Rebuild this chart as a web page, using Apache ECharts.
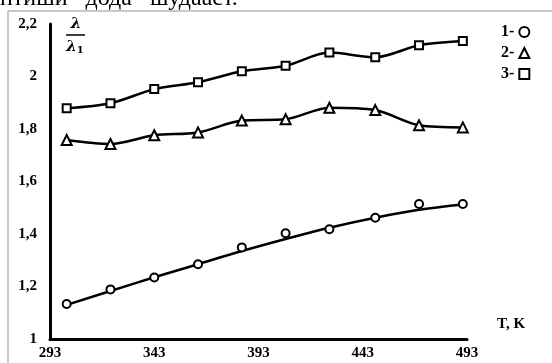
<!DOCTYPE html>
<html>
<head>
<meta charset="utf-8">
<script src="https://cdn.jsdelivr.net/npm/echarts@6/dist/echarts.min.js"></script>
<style>
  html, body { margin: 0; padding: 0; background: #fff; }
  #chart { width: 552px; height: 363px; }
</style>
</head>
<body>
<div id="chart"></div>
<script>
// temperatures, K
var temps = [301, 322, 343, 364, 385, 406, 427, 449, 470, 491];
// measured points
var curve1 = [1.133, 1.189, 1.234, 1.285, 1.349, 1.403, 1.418, 1.462, 1.514, 1.514];
var curve2 = [1.758, 1.743, 1.776, 1.787, 1.832, 1.837, 1.881, 1.872, 1.814, 1.806];
var curve3 = [1.879, 1.898, 1.952, 1.978, 2.020, 2.041, 2.091, 2.073, 2.119, 2.135];
// trend line drawn through curve 1
var trend1 = [1.130, 1.183, 1.235, 1.285, 1.335, 1.381, 1.424, 1.462, 1.492, 1.512];
var xTicks = [293, 343, 393, 443, 493];
var yTicks = [1, 1.2, 1.4, 1.6, 1.8, 2, 2.2];

var T0 = xTicks[0];
function pairs(vals) {
    return temps.map(function (t, i) { return [t - T0, vals[i]]; });
}

var labelFont = {
    color: '#000',
    fontFamily: 'Liberation Serif',
    fontWeight: 'bold',
    fontSize: 15
};

var option = {
    backgroundColor: '#fff',
    animation: false,
    grid: { left: 50, right: 85, top: 24, bottom: 24 },
    xAxis: {
        type: 'value',
        min: 0,
        max: xTicks[xTicks.length - 1] - T0,
        interval: 50,
        axisLine: { lineStyle: { color: '#000', width: 3 } },
        axisTick: { show: false },
        splitLine: { show: false },
        axisLabel: Object.assign({
            margin: 7,
            formatter: function (v) { return String(v + T0); }
        }, labelFont)
    },
    yAxis: {
        type: 'value',
        min: yTicks[0],
        max: yTicks[yTicks.length - 1],
        interval: 0.2,
        axisLine: { show: true, lineStyle: { color: '#000', width: 3 } },
        axisTick: { show: false },
        splitLine: { show: false },
        axisLabel: Object.assign({
            margin: 13,
            formatter: function (v) { return String(+v.toFixed(1)).replace('.', ','); }
        }, labelFont)
    },
    legend: {
        left: 496,
        top: 19,
        orient: 'vertical',
        align: 'right',
        itemGap: 5,
        itemWidth: 10,
        itemHeight: 10,
        itemStyle: { borderWidth: 2 },
        textStyle: { color: '#000', fontFamily: 'Liberation Serif', fontWeight: 'bold', fontSize: 16 },
        data: [
            { name: '1-', icon: 'emptyCircle' },
            { name: '2-', icon: 'emptyTriangle' },
            { name: '3-', icon: 'emptyRect' }
        ]
    },
    graphic: [
        { type: 'line', shape: { x1: 8, y1: 11, x2: 552, y2: 11 }, style: { stroke: '#c8c8c8', lineWidth: 2 } },
        { type: 'line', shape: { x1: 8, y1: 11, x2: 8, y2: 363 }, style: { stroke: '#c8c8c8', lineWidth: 2 } },
        { type: 'text', x: 0, y: -13, style: { text: 'нтиши   дода   шудааст.', font: '24px "Liberation Serif"', fill: '#000', verticalAlign: 'top' } },
        { type: 'text', x: 76, y: 24, style: { text: 'λ', font: 'bold italic 15px "DejaVu Serif"', fill: '#000', align: 'center', verticalAlign: 'middle' } },
        { type: 'line', shape: { x1: 66, y1: 35, x2: 85, y2: 35 }, style: { stroke: '#000', lineWidth: 1.5 } },
        { type: 'text', x: 75, y: 47, style: {
            text: 'λ{s|1}', font: 'bold italic 15px "DejaVu Serif"', fill: '#000', align: 'center', verticalAlign: 'middle',
            rich: { s: { fontSize: 10, fontWeight: 'bold', fontFamily: 'DejaVu Serif', verticalAlign: 'bottom', padding: [6, 0, 0, 0] } }
        } },
        { type: 'text', x: 497, y: 317, style: { text: 'T, K', font: 'bold 15px "Liberation Serif"', fill: '#000' } }
    ],
    series: [
        {
            name: '1-', type: 'scatter', data: pairs(curve1),
            symbol: 'emptyCircle', symbolSize: 8,
            itemStyle: { color: '#000', borderWidth: 1.8, opacity: 1 }, z: 3
        },
        {
            name: 'trend', type: 'line', data: pairs(trend1), smooth: 0.4,
            showSymbol: false, lineStyle: { color: '#000', width: 2.5 }, z: 2
        },
        {
            name: '2-', type: 'line', data: pairs(curve2), smooth: 0.3,
            symbol: 'emptyTriangle', symbolSize: 10,
            lineStyle: { color: '#000', width: 2.5 },
            itemStyle: { color: '#000', borderWidth: 1.8 }
        },
        {
            name: '3-', type: 'line', data: pairs(curve3), smooth: 0.3,
            symbol: 'emptyRect', symbolSize: 8,
            lineStyle: { color: '#000', width: 2.5 },
            itemStyle: { color: '#000', borderWidth: 1.8 }
        }
    ]
};

var myChart = echarts.init(document.getElementById('chart'));
myChart.setOption(option);
</script>
</body>
</html>
